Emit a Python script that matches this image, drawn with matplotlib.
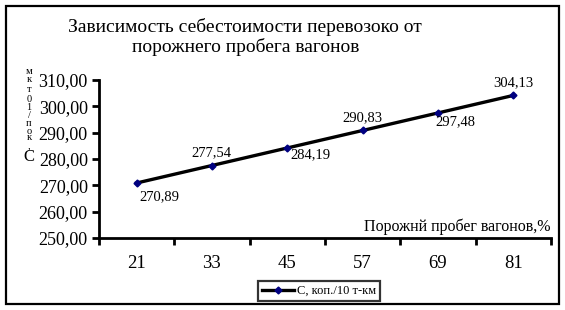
import matplotlib.pyplot as plt
from matplotlib.patches import Rectangle

# empty-run share of wagons, %
categories = ['21', '33', '45', '57', '69', '81']
# cost, kop./10 t-km
cost = [270.89, 277.54, 284.19, 290.83, 297.48, 304.13]
cost_labels = ['270,89', '277,54', '284,19', '290,83', '297,48', '304,13']
yticks = [250, 260, 270, 280, 290, 300, 310]

plt.rcParams['font.family'] = ['Liberation Serif', 'DejaVu Serif']

fig = plt.figure(figsize=(5.65, 3.1), dpi=100)
fig.patch.set_facecolor('white')
fig.add_artist(Rectangle((6 / 565, 6 / 310), 553 / 565, 298 / 310, transform=fig.transFigure,
                         fill=False, edgecolor='black', linewidth=1.6))

ax = fig.add_axes([0.175, 0.232, 0.8, 0.51])
x = list(range(len(categories)))
ax.plot(x, cost, color='black', linewidth=2.4, marker='D', markersize=3.5,
        markerfacecolor='#000080', markeredgecolor='#000080', label='С, коп./10 т-км')

# label offsets (points)
offsets = [(2, -10), (0, 9), (2, -5), (0, 9), (-2, -6), (0, 9)]
aligns = ['left', 'center', 'left', 'center', 'left', 'center']
for xi, yi, lab, off, ha in zip(x, cost, cost_labels, offsets, aligns):
    ax.annotate(lab, (xi, yi), xytext=off, textcoords='offset points',
                ha=ha, va='center', fontsize=10.5)

ax.set_xlim(-0.5, len(categories) - 0.5)
ax.set_ylim(250, 310)
ax.set_yticks(yticks)
ax.set_yticklabels([f'{v:.2f}'.replace('.', ',') for v in yticks], fontsize=13)
ax.set_xticks([i - 0.5 for i in range(len(categories) + 1)])
ax.set_xticklabels([])
ax.set_xticks(x, minor=True)
ax.set_xticklabels(categories, minor=True, fontsize=13.5)
ax.tick_params(axis='x', which='minor', length=0, pad=12)
ax.tick_params(axis='both', which='major', direction='out', length=5, width=2)
ax.tick_params(axis='y', pad=3)
for s in ['top', 'right']:
    ax.spines[s].set_visible(False)
for s in ['left', 'bottom']:
    ax.spines[s].set_linewidth(2)

ax.text(1.0, 0.02, 'Порожнй пробег вагонов,%', transform=ax.transAxes,
        ha='right', va='bottom', fontsize=11.5)

fig.text(0.434, 0.882, 'Зависимость себестоимости перевозоко от\nпорожнего пробега вагонов',
         ha='center', va='center', fontsize=14, linespacing=1.15)

# stacked y-axis label characters (top to bottom)
ylab_chars = ['м', 'к', 'т', '0', '1', '/', 'п', 'о', 'к', ',', 'С']
ylab_pos = [72, 79, 89, 99, 107, 115, 124, 131, 138, 146, 157]
for ch, py in zip(ylab_chars, ylab_pos):
    fig.text(29 / 565, 1 - py / 310, ch, ha='center', va='center',
             fontsize=7.5 if ch != 'С' else 12)

leg = fig.legend(loc='center', bbox_to_anchor=(319 / 565, 1 - 291 / 310), fontsize=9,
                 frameon=True, fancybox=False, handlelength=2.6, borderpad=0.3,
                 handletextpad=0.2, borderaxespad=0)
leg.get_frame().set_edgecolor('black')
leg.get_frame().set_linewidth(1.6)

fig.savefig('out.png', dpi=100)
